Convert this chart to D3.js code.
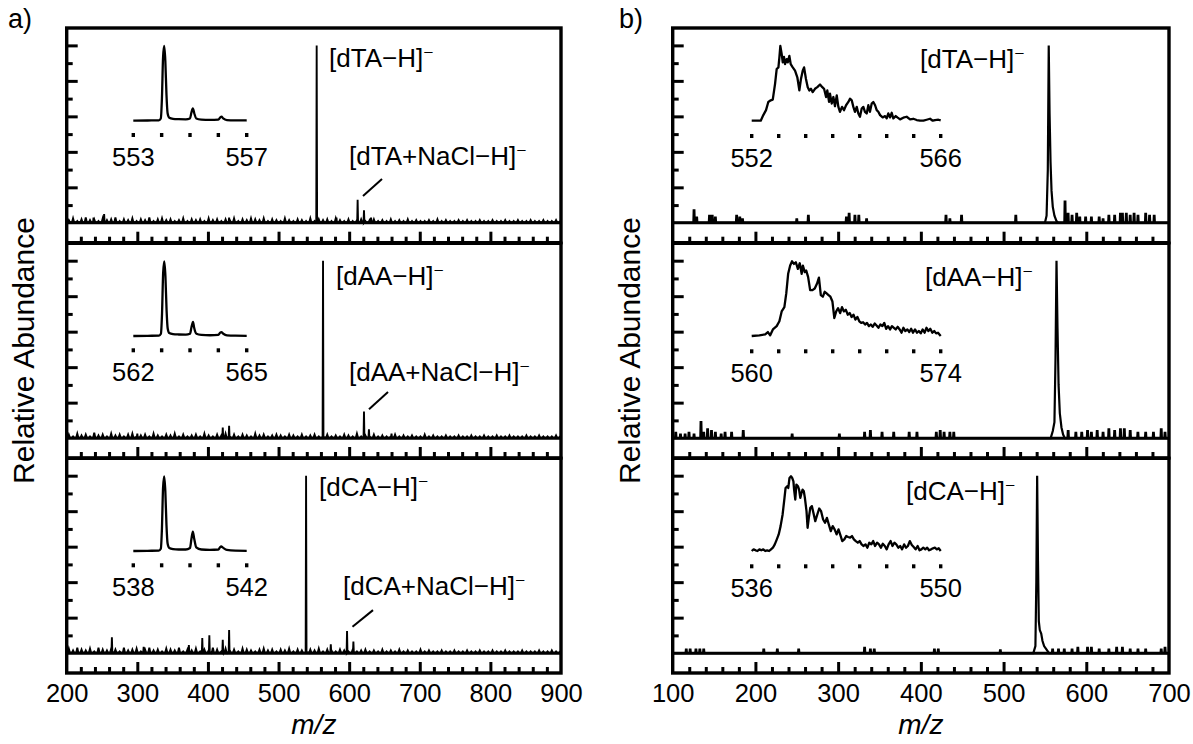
<!DOCTYPE html>
<html><head><meta charset="utf-8">
<script src="https://cdn.jsdelivr.net/npm/d3@7"></script>
<style>
body{margin:0;background:#fff;}
svg{display:block;font-family:"Liberation Sans",Arial,Helvetica,sans-serif;}
</style></head><body>
<svg id="fig" width="1193" height="744"></svg>
<script>
// ---------- data ----------
const compounds = ["dTA", "dAA", "dCA"];
const mzDomainA = [200, 900];
const mzDomainB = [100, 700];
const xLabelsA = [200, 300, 400, 500, 600, 700, 800, 900];
const xLabelsB = [100, 200, 300, 400, 500, 600, 700];

// baseline noise of panel a) spectra, one value every 6 m/z starting at 203 (% abundance)
const noiseStartA = 203, noiseStepA = 6;
const noiseA_dTA = [1.5,2.5,1,2,3,1.5,2,1,2.5,1.5, 2,3,1,2,1.5,2.5,1,2,1.5,3, 1,2,2.5,1.5,2,1,1.5,2.5,1,2, 1.5,2,1,2.5,1.5,2,1,2,1.5,2.5, 1,2,1.5,2.5,2,1.5,2.5,1,2,1.5, 1,2.5,1.5,1,2,1.5,1,2.5,1,2, 1.5,2,1,2.5,1.5,1,2,1,1.5,2, 1,1.5,2,1,1.5,1,2,1,1.5,1, 2,1,1.5,1,1,1.5,1,2,1,1.5, 1,1,1.5,1,1.5,1,1,1.5,1,1, 1.5,1,1,1.5,1,1,1.5,1,1,1.5, 1,1,1.5,1,1,1.5,1];
const noiseA_dAA = [2,1,2.5,1.5,2,1,3,1.5,2,1, 2.5,1.5,2,1,2,2.5,1,1.5,2,1, 2.5,1.5,1,2,1.5,2.5,1,2,1,1.5, 2,1,2.5,1.5,1,2,1.5,2.5,1,2, 1,2,1.5,1,2.5,1.5,2,1,1.5,2, 1.5,1,2,1.5,1,2,1,1.5,2,1, 1.5,2,1,1.5,1,2,1.5,1,2.5,1, 1.5,1,2,1,1.5,1,1,2,1,1.5, 1,1.5,1,1,2,1,1.5,1,1,1.5, 1,1,1.5,1,1,1.5,1,1,1.5,1, 1,1.5,1,1,1.5,1,1,1,1.5,1, 1,1.5,1,1,1,1.5,1];
const noiseA_dCA = [2.5,1.5,3,2,1.5,2.5,1,3,2,1.5, 2.5,2,1,3,1.5,2,2.5,1,2,3, 1.5,2,1,2.5,2,1.5,3,1,2,1.5, 2.5,1,2,1.5,3,2,1,2.5,1.5,2, 1,2.5,2,1.5,1,2,2.5,1.5,2,1, 2,1.5,2.5,1,2,1.5,1,2,1.5,2.5, 1,2,1.5,1,2,1.5,1,2,1,1.5, 2,1,1.5,1,2,1,1.5,1,2,1, 1.5,1,1,2,1,1.5,1,1,1.5,1, 1,1.5,1,1,1.5,1,1,1.5,1,1, 1.5,1,1,1.5,1,1,1,1.5,1,1, 1,1.5,1,1,1.5,1,1];

// discrete peaks of panel a) spectra [m/z, % abundance]
const peaksA_dTA = [[238,3],[253,5],[430,3],[554,100],[582,3],[612,13],[621,7],[631,3]];
const peaksA_dAA = [[300,2.5],[421,6],[430,7],[563,100],[621,15],[628,5],[660,2.5]];
const peaksA_dCA = [[264,9],[309,3.5],[373,4.5],[392,8.5],[402,10],[421,7.5],[430,13],[539,100],[574,5],[597,12.5],[606,6.5]];

// isotope-resolved insets of panel a) [m/z, % abundance]
const insetA_dTA = [[553,0],[553.5,0.3],[553.9,0.5],[553.97,3],[554.01,30],[554.05,85],[554.09,100],[554.13,80],[554.17,35],[554.21,10],[554.27,4],[554.4,2.5],[554.6,2],[554.85,1.8],[555,3],[555.05,11],[555.1,16.6],[555.15,10],[555.22,3],[555.4,1.5],[555.7,1],[556,1.5],[556.07,4.5],[556.11,5.4],[556.17,3],[556.3,0.8],[556.6,0.4],[557,0.3]];
const insetA_dAA = [[562,0],[562.38,0.3],[562.68,0.5],[562.73,3],[562.76,30],[562.79,85],[562.82,100],[562.85,80],[562.88,35],[562.91,10],[562.95,4],[563.05,2.5],[563.2,2],[563.39,1.8],[563.5,3],[563.54,12],[563.58,19],[563.61,11],[563.67,3],[563.8,1.5],[564.03,1],[564.25,1.5],[564.3,4.5],[564.33,5.2],[564.38,3],[564.48,0.8],[564.7,0.4],[565,0.3]];
const insetA_dCA = [[538,0],[538.5,0.3],[538.9,0.5],[538.97,3],[539.01,30],[539.05,85],[539.09,100],[539.13,80],[539.17,35],[539.21,10],[539.27,4],[539.4,2.5],[539.6,2],[539.85,2],[540,4],[540.05,16],[540.1,26],[540.15,16],[540.22,5],[540.4,2],[540.7,1.5],[541,2],[541.06,5],[541.1,6],[541.16,4.5],[541.3,1.5],[541.6,0.5],[542,0.3]];
const insetTicksA_dTA = [553, 554, 555, 556, 557];
const insetTicksA_dAA = [562, 562.75, 563.5, 564.25, 565];
const insetTicksA_dCA = [538, 539, 540, 541, 542];

// panel b) spectra: isolated spikes [m/z, %] and the main peak profile [m/z, %]
const spikesB_dTA = [[125.8,7],[129,3],[144.5,4],[147.8,4],[151.6,3],[177.3,4],[181.1,3],[184.4,2],[250,2],[264,4],[310,3],[313.3,5],[320.3,4],[325,4],[334.4,2],[430.4,4],[435.1,2],[449.2,4],[514.8,4],[574.3,12],[578,5],[582.8,4],[588.4,5],[592.1,3],[599.2,3],[606.2,3],[615.6,3],[620.3,2],[627.3,4],[634.3,4],[641.3,5],[643.7,5],[648.4,5],[653.1,4],[657.8,5],[662.5,4],[671.8,5],[676.5,4],[682.1,4]];
const profileB_dTA = [[550,0],[552,4],[553.5,30],[554.6,100],[555.6,62],[556.8,34],[558,18],[559.5,9],[561.5,4],[564,1],[566,0]];
const spikesB_dAA = [[103.7,3],[109.4,2],[115,2],[119.7,3],[125.8,2],[134.2,9],[137.5,3],[142.2,5],[146.9,4],[151.6,3],[158.6,2],[163.3,3],[171.2,3],[185.3,4],[244.4,2],[301.5,2],[332,3],[339,4],[353.1,3],[367.2,3],[385.9,3],[395.3,3],[418.7,3],[423.4,4],[428.1,3],[435.1,3],[439.8,3],[578.1,4],[587.4,3],[594.5,3],[601.5,4],[606.2,3],[613.2,4],[620.3,3],[627.3,5],[634.3,4],[641.3,5],[646,5],[653.1,4],[662.4,3],[671.8,3],[681.2,3],[690.6,5],[695.2,3]];
const profileB_dAA = [[557,0],[559.5,4],[561.5,9],[562.8,45],[564,100],[565.2,62],[566.5,30],[568,14],[570,6],[572,2],[574,0]];
const spikesB_dCA = [[116.4,2],[121.1,2],[128.1,2],[132.8,2],[137.5,2],[210.1,2],[226.5,2],[252.3,2],[332,3],[339,2],[343.7,2],[416.4,2],[421.1,2],[496.1,1.5],[559.3,2],[566.4,2],[573.4,2],[582.8,2],[589.8,3],[601.5,3],[606.2,3],[615.6,2],[627.3,2],[636.7,3],[643.7,3],[653.1,2],[662.5,2],[671.8,2],[690.6,2],[695.2,3]];
const profileB_dCA = [[536,0],[538.5,4],[539.6,40],[540.6,100],[541.6,52],[542.6,18],[543.8,13],[545.5,11],[547,7],[549,4],[552,2],[555,0]];

// unresolved insets of panel b) [m/z, %]
const insetB_dTA = [[552,0],[552.67,0],[552.86,7.5],[553.06,14.1],[553.23,25.1],[553.41,27.3],[553.56,28.2],[553.73,49.3],[553.85,69.2],[553.98,71.4],[554.05,84.6],[554.12,100],[554.22,89.4],[554.3,78],[554.39,85.5],[554.47,75.8],[554.59,82.4],[554.67,78],[554.79,86.8],[554.89,75.8],[555.04,71.4],[555.21,67],[555.38,58.1],[555.53,40.5],[555.65,55.9],[555.78,67],[555.88,71.4],[556.02,55.9],[556.15,44.9],[556.27,40.5],[556.39,42.7],[556.52,38.3],[556.69,42.7],[556.86,44.9],[557.06,48.5],[557.23,44.9],[557.36,42.7],[557.51,31.7],[557.6,40.5],[557.73,25.1],[557.8,36.1],[557.93,22.9],[558.05,31.7],[558.17,19.4],[558.3,33.9],[558.42,18.5],[558.54,11.9],[558.69,18.5],[558.84,14.1],[558.99,20.7],[559.16,25.1],[559.28,29.5],[559.41,27.3],[559.53,18.5],[559.65,11.9],[559.78,18.5],[559.9,9.7],[560.02,5.3],[560.15,16.3],[560.27,18.5],[560.39,11.9],[560.52,9.7],[560.64,20.7],[560.76,11.9],[560.89,22.9],[561.01,25.1],[561.14,20.7],[561.26,14.1],[561.38,11.9],[561.51,7.5],[561.7,4.4],[561.88,6.2],[562,3.1],[562.12,9.7],[562.25,4.4],[562.37,10.6],[562.49,3.1],[562.67,6.2],[562.79,4.4],[562.99,1.8],[563.23,4],[563.48,5.3],[563.73,1.8],[563.97,2.6],[564.22,0.9],[564.47,0],[564.72,0],[564.96,1.3],[565.21,2.6],[565.41,0],[565.58,0.9],[565.83,1.3],[566,0.4]];
const insetB_dAA = [[560,0],[560.57,0.9],[561,2.2],[561.2,5.3],[561.37,0.9],[561.57,8.8],[561.85,13.2],[562.05,19.7],[562.22,32.9],[562.42,38.6],[562.56,57],[562.7,83.3],[562.85,94.3],[562.99,100],[563.13,96.5],[563.27,98.7],[563.42,89.9],[563.56,97.4],[563.7,83.3],[563.79,94.3],[563.93,85.5],[564.04,87.7],[564.18,78.9],[564.33,61.4],[564.5,61.4],[564.67,63.6],[564.84,70.2],[564.98,78.1],[565.12,54.8],[565.27,52.6],[565.41,59.2],[565.55,57],[565.69,54.8],[565.83,52.6],[565.98,46.1],[566.12,24.1],[566.26,32.9],[566.4,37.3],[566.55,30.7],[566.69,38.6],[566.83,32.9],[566.97,35.1],[567.12,28.5],[567.26,30.7],[567.4,25.4],[567.54,28.5],[567.68,21.9],[567.83,25.4],[567.97,19.7],[568.11,17.5],[568.25,18.4],[568.4,15.4],[568.54,17.5],[568.68,13.2],[568.82,15.4],[568.96,12.3],[569.11,16.7],[569.25,14],[569.39,11],[569.53,15.4],[569.68,13.2],[569.82,17.5],[569.96,9.6],[570.1,13.2],[570.25,8.8],[570.39,13.2],[570.53,11],[570.67,8.8],[570.81,12.3],[570.96,8.8],[571.1,4.4],[571.24,11],[571.38,6.6],[571.53,8.8],[571.67,5.3],[571.81,9.6],[571.95,4.4],[572.1,8.8],[572.24,4.4],[572.38,6.6],[572.52,3.5],[572.66,8.8],[572.81,4.4],[572.95,11],[573.09,6.6],[573.23,9.6],[573.38,4.4],[573.52,6.6],[573.66,3.5],[573.8,4.4],[574,0]];
const insetB_dCA = [[536,0],[536.14,2.2],[536.29,0.9],[536.43,0],[536.57,2.2],[536.71,0.9],[536.86,2.2],[537,0],[537.14,0.9],[537.29,0],[537.43,2.2],[537.57,4.4],[537.71,8.9],[537.86,15.6],[538,22.2],[538.14,33.3],[538.29,48.9],[538.43,71.1],[538.51,84.4],[538.63,86.7],[538.71,84.4],[538.8,97.8],[538.91,100],[539,97.8],[539.09,93.3],[539.14,82.2],[539.23,68.9],[539.31,88.9],[539.43,86.7],[539.51,82.2],[539.6,71.1],[539.69,77.8],[539.77,82.2],[539.86,80],[539.94,71.1],[540.06,53.3],[540.14,31.1],[540.23,44.4],[540.34,57.8],[540.46,60],[540.57,51.1],[540.71,40],[540.86,48.9],[541,56.9],[541.14,53.3],[541.29,42.2],[541.43,37.8],[541.57,44.4],[541.71,35.6],[541.86,26.7],[542,33.3],[542.14,28.9],[542.29,22.2],[542.43,28.9],[542.57,21.3],[542.71,13.3],[542.86,15.6],[543,20],[543.14,18.7],[543.29,17.8],[543.43,20],[543.57,15.6],[543.71,13.3],[543.86,11.1],[544,13.3],[544.14,8.9],[544.29,6.7],[544.43,8.9],[544.57,4.4],[544.71,11.1],[544.86,8.9],[545,13.3],[545.14,6.7],[545.29,11.1],[545.43,8.9],[545.57,4.4],[545.71,9.8],[545.86,6.7],[546,2.2],[546.14,8.9],[546.29,13.3],[546.43,6.7],[546.57,11.1],[546.71,8.9],[546.86,4.4],[547,6.7],[547.14,2.2],[547.29,8.9],[547.43,4.4],[547.57,6.7],[547.71,13.3],[547.86,8],[548,5.3],[548.14,2.2],[548.29,6.7],[548.43,0.9],[548.57,2.2],[548.71,4.4],[548.86,2.2],[549,4.4],[549.14,0.9],[549.29,2.2],[549.43,3.6],[549.57,4.4],[549.71,2.2],[549.86,3.6],[550,0]];
const insetTicksB_dTA = [552, 554, 556, 558, 560, 562, 564, 566];
const insetTicksB_dAA = [560, 562, 564, 566, 568, 570, 572, 574];
const insetTicksB_dCA = [536, 538, 540, 542, 544, 546, 548, 550];

// ---------- layout ----------
const svg = d3.select("#fig");
const panelTops = [28, 243.3, 458.3];
const panelH = 214.7;
const columns = [
  {x0: 66.7, x1: 561, domain: mzDomainA, labels: xLabelsA, tag: "a)", tagX: 8, traceW: 1.9,
   inset: {x0: 133.3, x1: 246.7, curve: d3.curveMonotoneX, dotY: 107, lblY: 138}},
  {x0: 672.7, x1: 1169, domain: mzDomainB, labels: xLabelsB, tag: "b)", tagX: 619, traceW: 2.2,
   inset: {x0: 751.7, x1: 940.7, curve: d3.curveLinear, dotY: 108, lblY: 139}}
];

const yS = d3.scaleLinear().domain([-11.2, 109.8]).range([panelH, 0]);

function stickProfile(noise, peaks) {
  // every noise sample and every peak becomes a small stick rising from the baseline
  const items = noise.map((v, i) => {
    const m = noiseStartA + i * noiseStepA;
    return {m, pts: [[m - 1.5, 0.3], [m, v], [m + 1.5, 0.3]]};
  });
  peaks.forEach(p => items.push({m: p[0], pts: [[p[0] - 0.6, 0.5], [p[0], p[1]], [p[0] + 0.6, 0.5]]}));
  items.sort((a, b) => a.m - b.m);
  const out = [[mzDomainA[0], 0.5]];
  items.forEach(p => out.push(...p.pts));
  out.push([mzDomainA[1], 0.5]);
  return out;
}
function spikeProfile(spikes, profile, domain) {
  const items = spikes.map(s => ({m: s[0], pts: [[s[0] - 0.8, 0], [s[0] - 0.4, s[1]], [s[0] + 0.4, s[1]], [s[0] + 0.8, 0]]}));
  items.push({m: profile[0][0], pts: profile});
  items.sort((a, b) => a.m - b.m);
  const out = [[domain[0], 0]];
  items.forEach(p => out.push(...p.pts));
  out.push([domain[1], 0]);
  return out;
}

const spectraA = [stickProfile(noiseA_dTA, peaksA_dTA), stickProfile(noiseA_dAA, peaksA_dAA), stickProfile(noiseA_dCA, peaksA_dCA)];
const spectraB = [spikeProfile(spikesB_dTA, profileB_dTA, mzDomainB), spikeProfile(spikesB_dAA, profileB_dAA, mzDomainB), spikeProfile(spikesB_dCA, profileB_dCA, mzDomainB)];
const insetsA = [[insetA_dTA, insetTicksA_dTA], [insetA_dAA, insetTicksA_dAA], [insetA_dCA, insetTicksA_dCA]];
const insetsB = [[insetB_dTA, insetTicksB_dTA], [insetB_dAA, insetTicksB_dAA], [insetB_dCA, insetTicksB_dCA]];

// ion label anchors [x, baseline] and adduct labels [x, baseline, leader x1, y1, x2, y2]
const ionLabelsA = [[329, 39], [336, 41.5], [319, 37.5]];
const ionLabelsB = [[920, 40], [925, 43], [906, 42]];
const adductLabelsA = [[349, 137, 382, 151, 363, 168], [349, 137.7, 388, 148.6, 369, 166], [343, 137, 373, 151.8, 352.5, 168.4]];

const labelFont = 26, tickFont = 25.5;

function ionText(g, x, y, body) {
  const t = g.append("text").attr("x", x).attr("y", y).attr("font-size", labelFont).attr("fill", "#000");
  t.append("tspan").text(body);
  t.append("tspan").attr("dy", -11).attr("dx", 1).attr("font-size", 15).text("\u2013");
}

columns.forEach((col, ci) => {
  const x = d3.scaleLinear().domain(col.domain).range([col.x0, col.x1]);
  const spectra = ci === 0 ? spectraA : spectraB;
  const insets = ci === 0 ? insetsA : insetsB;
  const line = d3.line().x(d => x(d[0])).y(d => yS(d[1]));

  panelTops.forEach((top, pi) => {
    const g = svg.append("g").attr("transform", `translate(0,${top})`);
    const clipId = `clip${ci}${pi}`;
    g.append("clipPath").attr("id", clipId).append("rect")
      .attr("x", col.x0).attr("y", 0).attr("width", col.x1 - col.x0).attr("height", panelH);

    // zero line
    g.append("line").attr("x1", col.x0).attr("x2", col.x1)
      .attr("y1", yS(0)).attr("y2", yS(0)).attr("stroke", "#000").attr("stroke-width", 3);

    // spectrum
    g.append("path").datum(spectra[pi]).attr("clip-path", `url(#${clipId})`)
      .attr("d", line).attr("fill", "none").attr("stroke", "#000")
      .attr("stroke-width", col.traceW).attr("stroke-linejoin", "miter");

    // left (inward) ticks
    const yMajor = d3.axisRight(yS).tickValues([20, 40, 60, 80, 100]).tickSize(11).tickFormat("");
    const yMinor = d3.axisRight(yS).tickValues([10, 30, 50, 70, 90]).tickSize(6).tickFormat("");
    [yMajor, yMinor].forEach(ax => {
      const a = g.append("g").attr("transform", `translate(${col.x0},0)`).call(ax);
      a.select(".domain").remove();
      a.selectAll("line").attr("stroke-width", 3);
    });

    // bottom (inward) ticks
    const majors = col.labels.slice(1, -1);
    const minors = d3.range(col.domain[0] + 20, col.domain[1], 20).filter(v => v % 100 !== 0);
    const xMajor = d3.axisTop(x).tickValues(majors).tickSize(11).tickFormat("");
    const xMinor = d3.axisTop(x).tickValues(minors).tickSize(6).tickFormat("");
    [xMajor, xMinor].forEach(ax => {
      const a = g.append("g").attr("transform", `translate(0,${panelH})`).call(ax);
      a.select(".domain").remove();
      a.selectAll("line").attr("stroke-width", 3);
    });

    // frame
    g.append("rect").attr("x", col.x0).attr("y", 0).attr("width", col.x1 - col.x0).attr("height", panelH)
      .attr("fill", "none").attr("stroke", "#000").attr("stroke-width", 3.4);

    // inset
    const [inData, inTicks] = insets[pi];
    const ix = d3.scaleLinear().domain([inTicks[0], inTicks[inTicks.length - 1]]).range([col.inset.x0, col.inset.x1]);
    const iy = d3.scaleLinear().domain([0, 100]).range([92.7, 18]);
    g.append("path").datum(inData)
      .attr("d", d3.line().curve(col.inset.curve).x(d => ix(d[0])).y(d => iy(d[1])))
      .attr("fill", "none").attr("stroke", "#000").attr("stroke-width", 2.3).attr("stroke-linejoin", "round");
    g.selectAll(null).data(inTicks).enter().append("rect")
      .attr("x", d => ix(d) - 1.7).attr("y", col.inset.dotY - 2).attr("width", 3.4).attr("height", 4).attr("fill", "#000");
    [inTicks[0], inTicks[inTicks.length - 1]].forEach(v => {
      g.append("text").attr("x", ix(v)).attr("y", col.inset.lblY).attr("text-anchor", "middle")
        .attr("font-size", tickFont).text(v);
    });

    // ion labels
    const ion = ci === 0 ? ionLabelsA[pi] : ionLabelsB[pi];
    ionText(g, ion[0], ion[1], `[${compounds[pi]}\u2212H]`);
    if (ci === 0) {
      const ad = adductLabelsA[pi];
      ionText(g, ad[0], ad[1], `[${compounds[pi]}+NaCl\u2212H]`);
      g.append("line").attr("x1", ad[2]).attr("y1", ad[3]).attr("x2", ad[4]).attr("y2", ad[5])
        .attr("stroke", "#000").attr("stroke-width", 2);
    }
  });

  // x tick labels under the bottom panel
  const bottom = panelTops[2] + panelH;
  const xl = d3.axisBottom(x).tickValues(col.labels).tickSize(0).tickPadding(11);
  const ag = svg.append("g").attr("transform", `translate(0,${bottom})`).call(xl);
  ag.select(".domain").remove();
  ag.selectAll("text").attr("font-size", tickFont).attr("font-family", "Liberation Sans, Arial, sans-serif").attr("fill", "#000");

  // axis titles
  svg.append("text").attr("x", (col.x0 + col.x1) / 2).attr("y", 734).attr("text-anchor", "middle")
    .attr("font-size", 28).attr("font-style", "italic").text("m/z");
  const midY = (panelTops[0] + bottom) / 2;
  svg.append("text").attr("transform", `translate(${col.x0 - 33},${midY}) rotate(-90)`)
    .attr("text-anchor", "middle").attr("font-size", 30).text("Relative Abundance");
  svg.append("text").attr("x", col.tagX).attr("y", 28).attr("font-size", 27).text(col.tag);
});
</script>
</body></html>
